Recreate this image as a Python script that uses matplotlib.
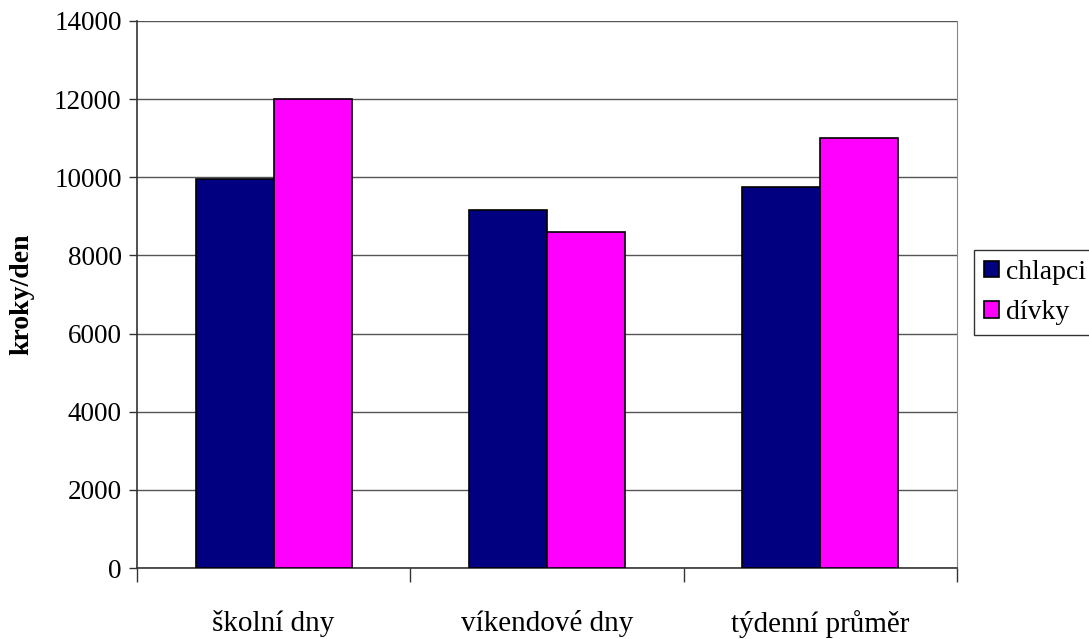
import numpy as np
import matplotlib.pyplot as plt

# Průměrný počet kroků za den
kategorie = ["školní dny", "víkendové dny", "týdenní průměr"]
chlapci = [9950, 9150, 9750]
divky = [12000, 8600, 11000]

plt.rcParams["font.family"] = ["Liberation Serif", "DejaVu Serif"]

fig = plt.figure(figsize=(10.89, 6.39), dpi=100)
ax = fig.add_axes([137 / 1089, 1 - 568 / 639, (957 - 137) / 1089, (568 - 21) / 639])

x = np.arange(len(kategorie))
w = 1 / 3.5
ax.bar(x - w / 2, chlapci, w, color="#000080", edgecolor="black", linewidth=1.2, label="chlapci", zorder=3)
ax.bar(x + w / 2, divky, w, color="#ff00ff", edgecolor="black", linewidth=1.2, label="dívky", zorder=3)

ax.set_xlim(-0.5, 2.5)
ax.set_ylim(0, 14000)
ax.set_yticks(np.arange(0, 14001, 2000))
ax.yaxis.grid(True, color="#555555", linewidth=1.0, zorder=0)

# hranice kategorií jako značky, popisky uprostřed
ax.set_xticks([-0.5, 0.5, 1.5, 2.5])
ax.set_xticklabels([])
ax.set_xticks(x, minor=True)
ax.set_xticklabels(kategorie, minor=True, fontsize=21)
ax.tick_params(axis="x", which="major", direction="out", length=10, width=1, color="#333333")
ax.tick_params(axis="x", which="minor", length=0, pad=30)
ax.tick_params(axis="y", direction="out", length=6, width=1, color="#333333", labelsize=19.5, pad=5)

for s in ["left", "bottom"]:
    ax.spines[s].set_color("#333333")
    ax.spines[s].set_linewidth(1.2)
ax.spines["top"].set_visible(False)
ax.spines["right"].set_color("#888888")

ax.set_ylabel("kroky/den", fontsize=20, fontweight="bold", labelpad=14)

leg = fig.legend(loc="upper left", bbox_to_anchor=(974 / 1089, 1 - 250 / 639), fontsize=20,
                 frameon=True, fancybox=False, edgecolor="black", handlelength=0.55, handleheight=0.55,
                 handletextpad=0.25, borderpad=0.35, borderaxespad=0, labelspacing=0.55)
leg.get_frame().set_linewidth(1.0)

fig.savefig("out.png", dpi=100)
